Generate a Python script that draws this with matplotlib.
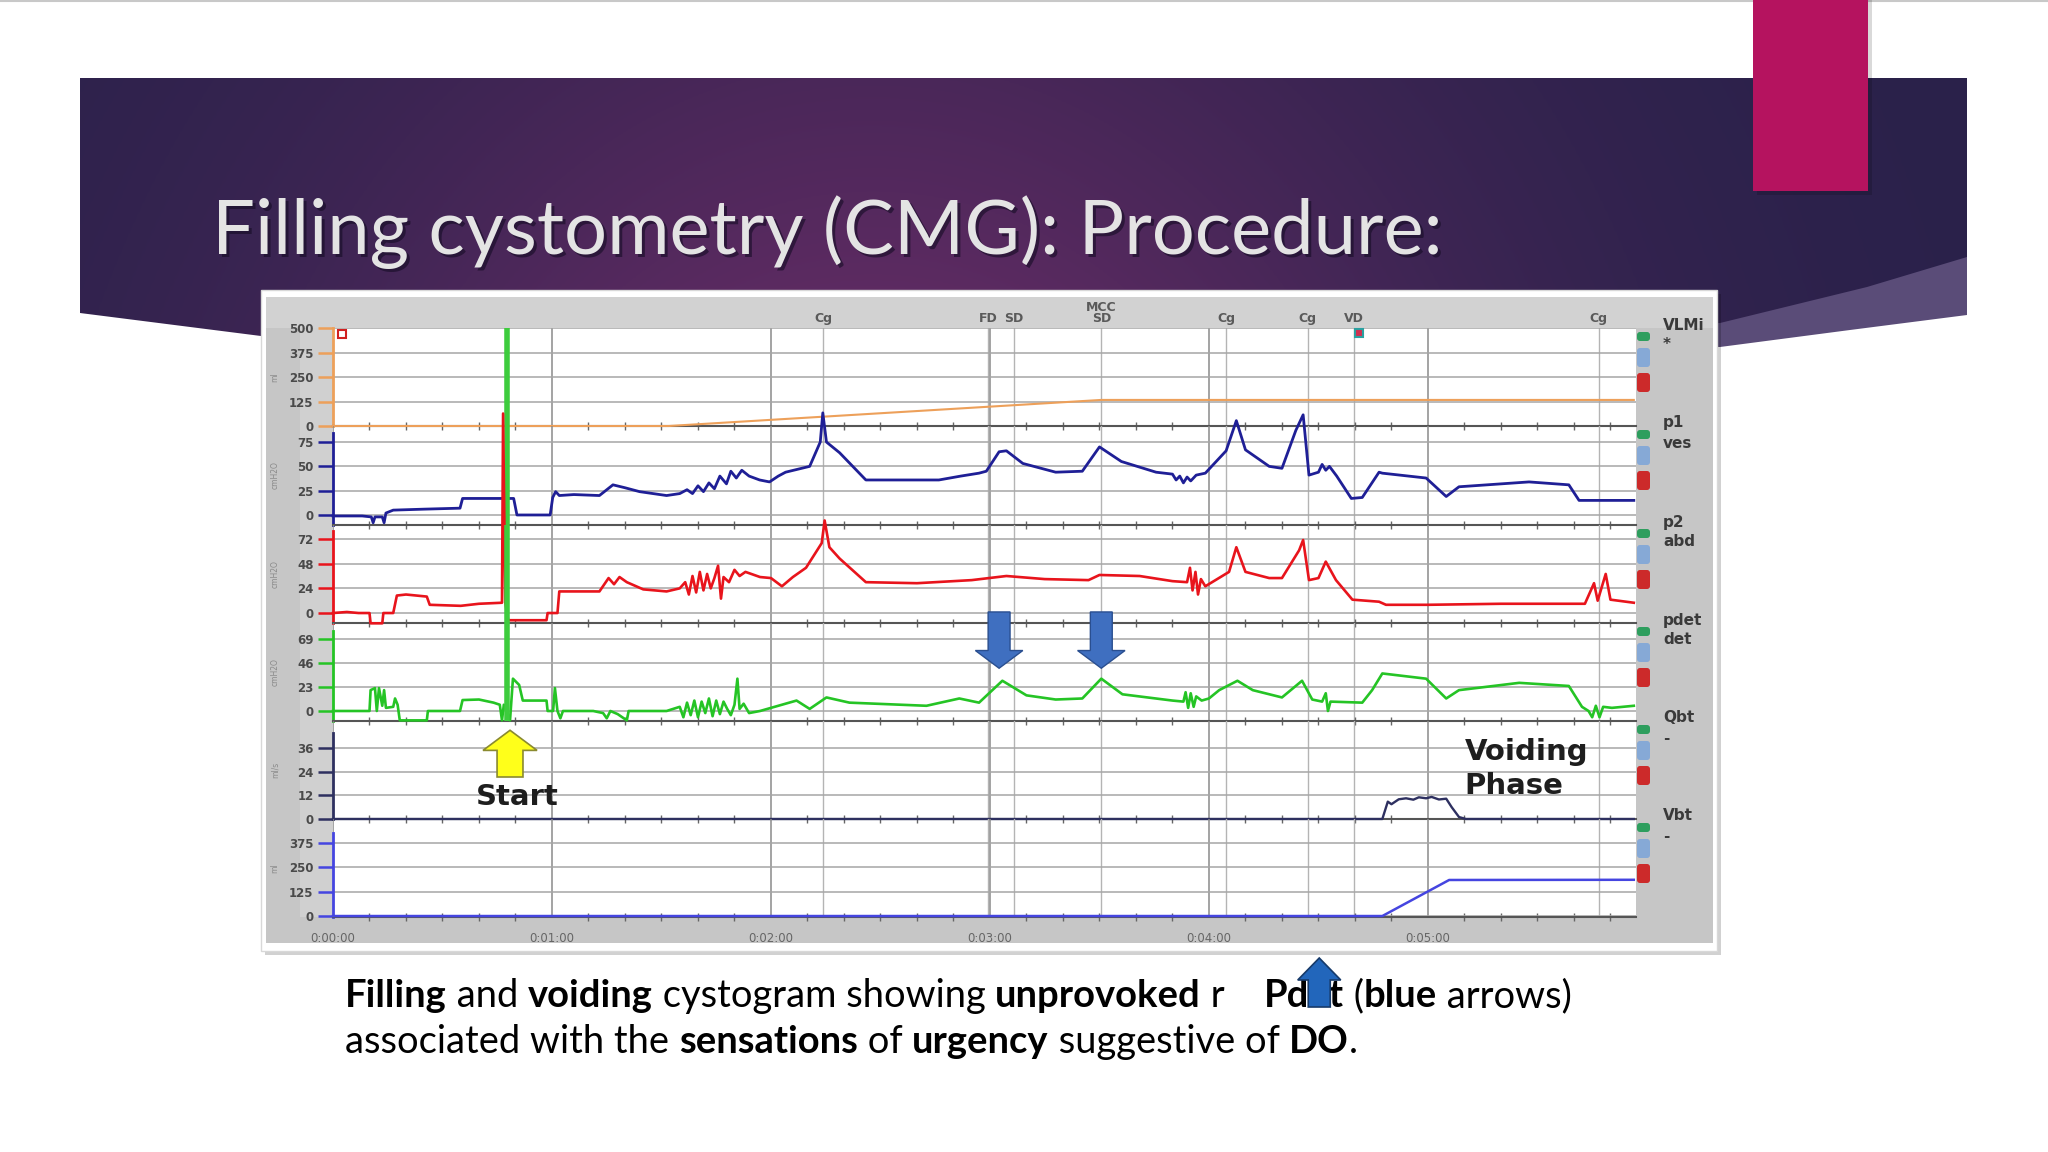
import numpy as np
import matplotlib
matplotlib.use("Agg")
import matplotlib.pyplot as plt
from matplotlib import font_manager
from matplotlib.patches import Polygon, Rectangle, FancyArrow, FancyBboxPatch

W, H = 2048, 1152

# ---- values (time in seconds) ----
minutes = [0, 60, 120, 180, 240, 300]
minute_labels = ["0:00:00", "0:01:00", "0:02:00", "0:03:00", "0:04:00", "0:05:00"]
event_labels = ["Cg", "FD", "SD", "MCC\nSD", "Cg", "Cg", "VD", "Cg"]
event_times = [134.3, 179.5, 186.5, 210.5, 244.7, 267.0, 279.8, 346.8]
start_t = 47.6
do_arrow_t = [182.5, 210.5]

channels = ["VLMi", "p1", "p2", "pdet", "Qbt", "Vbt"]
channel_sub = ["*", "ves", "abd", "det", "-", "-"]
channel_units = ["ml", "cmH2O", "cmH2O", "cmH2O", "ml/s", "ml"]
channel_ticks = [[0, 125, 250, 375, 500], [0, 25, 50, 75], [0, 24, 48, 72],
                 [0, 23, 46, 69], [0, 12, 24, 36], [0, 125, 250, 375]]

vlm_pts = [(0, 0), (92, 0), (210.5, 133), (356.4, 133)]

p1_pts = [(0, -1), (8, -1), (10.5, -2), (11, -8), (11.5, -2), (13.5, -2), (14, -8), (14.5, 2),
          (16.5, 5), (25, 6), (34.8, 7), (35.5, 17), (45.7, 17), (49.5, 17), (50.4, 0), (59.5, 0),
          (60.2, 18), (61, 24), (62, 20), (66, 21), (73, 20), (76.7, 31), (80, 28), (84, 24), (91.4, 20),
          (95, 22), (97, 26), (98.5, 22), (100, 30), (101.5, 24), (103, 33), (104.5, 27), (106, 40),
          (107.8, 32), (109, 45), (110.5, 38), (112, 46), (114, 40), (116.9, 36), (119.6, 34), (122, 40),
          (124, 44), (130.6, 50), (133.5, 75), (134.2, 105), (135.2, 75), (138.8, 64), (146, 36),
          (166, 36), (172, 40), (177, 43), (179, 45), (182.5, 65), (184.5, 66), (189, 53), (198, 44),
          (205.3, 45), (210, 70), (216, 55), (225.5, 44), (230, 42), (231, 36), (232, 40), (233, 33),
          (234, 39), (235, 35), (236.5, 41), (239, 43), (244.7, 66), (247.5, 97), (250, 67), (256.5, 50),
          (260, 48), (263.8, 87), (265.8, 103), (267.4, 41), (270, 44), (271, 52), (272, 46), (273, 50),
          (275, 40), (279, 17), (282, 18), (286.6, 44), (287.5, 43), (299.5, 38), (305, 19), (308.5, 29),
          (327.7, 34), (338.6, 31), (341.4, 15), (356.4, 15)]

p2_pts = [(0, 0), (3.8, 1), (7, 0), (10, 0), (10.3, -10), (13.5, -10), (13.8, 0), (16.5, 0), (17.5, 17),
          (20, 18), (25.7, 16), (26.5, 8), (35, 7), (40, 9), (46.3, 10), (46.6, 194), (47.2, 10),
          (48, -7), (58.5, -7), (58.8, 0), (61.5, 0), (62, 21), (73, 21), (75.5, 34), (77, 28),
          (78.5, 35), (80.5, 30), (85, 23), (91.4, 21), (95, 24), (96.5, 30), (97.5, 18), (98.5, 36),
          (99.5, 20), (100.5, 40), (101.5, 22), (102.5, 38), (103.5, 24), (104.5, 34), (105.5, 46),
          (106.3, 14), (107, 35), (108.5, 30), (110, 42), (111.4, 36), (113, 40), (117, 35), (120, 34),
          (123, 26), (126, 35), (129.6, 44), (133.9, 68), (134.7, 90), (136, 64), (138.8, 53), (146, 30),
          (160, 29), (175, 32), (184.5, 36), (195, 33), (207, 32), (210, 37), (221, 36), (230, 31),
          (234, 30), (234.8, 44), (235.5, 22), (236.3, 40), (237, 18), (237.8, 33), (239, 26),
          (245.5, 40), (247.5, 64), (250, 40), (256.5, 34), (260, 34), (264.7, 61), (265.8, 71),
          (267.4, 32), (270, 34), (272, 50), (274.8, 32), (279.3, 13), (286.6, 11), (288.5, 8),
          (300, 8), (320, 9), (343, 9), (345.5, 29), (346.5, 12), (348.7, 38), (350, 13), (356.4, 10)]

pdet_pts = [(0, 0), (10, 0), (10.3, 20), (11.5, 22), (12, 0), (12.6, 22), (13.5, 5), (14, 20),
            (14.5, 3), (16.5, 4), (17, 12), (17.7, 6), (18.3, -9), (25.7, -9), (26, 0), (34.8, 0),
            (35.5, 10.5), (40, 11), (44, 8), (45.7, 6), (46.3, -9), (46.8, 6), (48.5, -9), (49.3, 31),
            (51, 25), (52, 10), (58.5, 10), (58.8, 0), (60.3, 0), (60.8, 22), (61.5, 0), (62.3, -7),
            (63, 0), (71.3, 0), (74, -2), (75, -7), (76, 0), (78, -3), (80.5, -9), (81, 0), (91.4, 0),
            (95, 4), (96, -6), (97, 8), (98, -4), (99, 10), (100, -6), (101, 9), (102, -2), (103, 12),
            (104, -5), (105, 10), (106, -3), (107, 9), (108, 2), (109, -4), (110, 6), (110.8, 31),
            (111.4, 2), (112.5, 7), (114, -2), (117, 0), (122, 5), (127, 10), (130.6, 2), (135.2, 13),
            (141.5, 8), (162.6, 5), (171.6, 12), (177, 8), (183.4, 29), (190, 15), (198, 11),
            (205.3, 12), (210.5, 31), (216.3, 16), (230, 10), (233, 9), (233.6, 18), (234.3, 3),
            (235, 17), (235.8, 4), (236.5, 14), (238, 10), (240, 12), (242.8, 20), (247.8, 29),
            (252, 20), (260, 13), (265.5, 29), (268.3, 11), (271, 9), (272, 17), (272.6, 0),
            (273.3, 9), (282, 8), (284.7, 20), (287.5, 36), (299.5, 31), (305, 12), (308.5, 20),
            (325, 27), (338.6, 24), (342.2, 4), (344, 0), (345, -6), (346, 5), (347, -6), (348, 4),
            (350.4, 3), (356.4, 5)]

qbt_pts = [(0, 0), (287.5, 0), (289, 8.8), (290, 7.5), (292, 10), (294, 10.5), (296, 9.8),
           (297.5, 11), (299.5, 10.5), (301, 11.2), (303, 9.9), (305, 10.3), (306.5, 6),
           (308.5, 1), (310.4, 0), (356.4, 0)]

vbt_pts = [(0, 0), (287.5, 0), (305.8, 185), (356.4, 186)]

traces = [vlm_pts, p1_pts, p2_pts, pdet_pts, qbt_pts, vbt_pts]

# ---- styles / layout ----
trace_colors = ["#eda05a", "#1f1f96", "#e8141c", "#25c425", "#2e3060", "#4545e0"]
trace_lw = [1.5, 2.0, 1.9, 1.9, 1.7, 1.8]
panel_px = [(328, 426), (426, 525), (525, 623), (623, 721), (721, 819), (819, 917)]
ylims = [(0, 500), (-10.3, 91.5), (-9.7, 85.6), (-9.6, 84.4), (0, 49.7), (-5, 498)]
spine_top = [500, 84, 80, 77, 43.6, 426]
plot_x0, plot_x1 = 333, 1636

names = {f.name for f in font_manager.fontManager.ttflist}
title_font = next((f for f in ["Liberation Sans Narrow", "Lato", "Open Sans"] if f in names), "DejaVu Sans")
cap_font = next((f for f in ["Lato", "Open Sans"] if f in names), "DejaVu Sans")

fig = plt.figure(figsize=(W / 100, H / 100), dpi=100)
bg = fig.add_axes([0, 0, 1, 1])
bg.axis("off")

# slide decoration
bg.plot([0, W], [1, 1], color="#c8c8c8", lw=1.5)
bg.add_patch(Polygon([(1600, 300), (1967, 240), (1967, 315), (1850, 330), (1720, 347), (1600, 345)],
                     fc="#5a4c78", ec="none", zorder=1))
banner = Polygon([(80, 78), (1967, 78), (1967, 257), (1867, 287), (1720, 323), (1000, 345),
                  (261, 336), (80, 313)], fc="none", ec="none")
bg.add_patch(banner)
gx, gy = np.meshgrid(np.linspace(0, 1, 400), np.linspace(0, 1, 100))
wgt = np.exp(-((gx - 0.42) / 0.32) ** 2) * (0.6 + 0.4 * gy)
c_dark = np.array([0.16, 0.13, 0.29])
c_mid = np.array([0.38, 0.17, 0.39])
img = c_dark + (c_mid - c_dark) * wgt[..., None]
im = bg.imshow(img, extent=(80, 1967, 345, 78), origin="upper", aspect="auto", zorder=1.5)
im.set_clip_path(banner)

bg.add_patch(Rectangle((1757, 0), 115, 195, fc="black", alpha=0.15, zorder=2))
bg.add_patch(Rectangle((1753, 0), 115, 191, fc="#b5135f", zorder=2.1))

# chart frame
bg.add_patch(Rectangle((265, 294), 1456, 661, fc="black", alpha=0.18, zorder=2))
bg.add_patch(Rectangle((261, 290), 1456, 661, fc="white", ec="#d8d8d8", zorder=2.1))
bg.add_patch(Rectangle((266, 297), 1447, 646, fc="#c6c6c6", zorder=2.2))
bg.add_patch(Rectangle((266, 297), 1447, 31, fc="#d2d2d2", zorder=2.25))
bg.add_patch(Rectangle((300, 328), 33, 589, fc="#d0d0d0", zorder=2.25))
bg.add_patch(Rectangle((plot_x0, 328), plot_x1 - plot_x0, 589, fc="white", zorder=2.3))

bg.set_xlim(0, W)
bg.set_ylim(H, 0)
r = fig.canvas.get_renderer()


def text_w(s, size, weight, family):
    t = bg.text(0, 0, s + "|", fontsize=size, fontweight=weight, family=family)
    w1 = t.get_window_extent(r).width
    t.set_text("|")
    w2 = t.get_window_extent(r).width
    t.remove()
    return w1 - w2


# title
title = "Filling cystometry (CMG): Procedure:"
tsize = 60 * 1232 / text_w(title, 60, "normal", title_font)
bg.text(215, 257, title, fontsize=tsize, family=title_font, color="#150c25", alpha=0.6,
        va="baseline", zorder=3)
bg.text(212, 254, title, fontsize=tsize, family=title_font, color="#e4e4e4", va="baseline", zorder=3.1)

# panels
axes = []
for i, (top, bot) in enumerate(panel_px):
    ax = fig.add_axes([plot_x0 / W, 1 - bot / H, (plot_x1 - plot_x0) / W, (bot - top) / H])
    ax.set_zorder(3 + i)
    ax.set_facecolor("none")
    ax.set_xlim(0, 357)
    ax.set_ylim(*ylims[i])
    ax.set_yticks(channel_ticks[i])
    ax.set_xticks(minutes)
    ax.set_xticks(np.arange(0, 357, 10), minor=True)
    ax.grid(axis="y", color="#a6a6a6", lw=1.1)
    ax.grid(axis="x", which="major", color="#8a8a8a", lw=1.1)
    for et in event_times:
        ax.axvline(et, color="#b4b4b4", lw=1.0, zorder=0.5)
    for s in ["top", "right"]:
        ax.spines[s].set_visible(False)
    ax.spines["bottom"].set_color("#555555")
    ax.spines["bottom"].set_linewidth(1.5)
    ax.spines["left"].set_color(trace_colors[i])
    ax.spines["left"].set_linewidth(2)
    ax.spines["left"].set_bounds(ylims[i][0], spine_top[i])
    ax.tick_params(axis="y", direction="out", length=11, width=1.8, color=trace_colors[i],
                   labelsize=8.5, labelcolor="#4a4a4a", pad=3)
    for lab in ax.get_yticklabels():
        lab.set_fontweight("bold")
    ax.tick_params(axis="x", which="major", length=0, labelbottom=False)
    ax.tick_params(axis="x", which="minor", length=6, direction="inout", color="#666666", width=1)
    ax.text(-0.0445, 0.5, channel_units[i], rotation=90, transform=ax.transAxes, fontsize=5.5,
            color="#8a8a8a", ha="center", va="center")
    t, v = zip(*traces[i])
    ax.plot(t, v, color=trace_colors[i], lw=trace_lw[i], clip_on=False, zorder=3)
    if i < 4:
        ax.axvline(start_t, color="#3dcc3d", lw=4, zorder=4)
    axes.append(ax)

    # right hand labels and channel buttons
    bg.text(1663, top - 3, channels[i], ha="left", va="center", fontsize=11, fontweight="bold",
            color="#3a3a3a", zorder=3)
    bg.text(1663, top + 17, channel_sub[i], ha="left", va="center", fontsize=11, fontweight="bold",
            color="#3a3a3a", zorder=3)
    for dy, hh, col in [(4, 9, "#2e9e5e"), (20, 19, "#86a9d6"), (45, 19, "#cc2a2a")]:
        bg.add_patch(FancyBboxPatch((1637, top + dy), 13, hh, boxstyle="round,pad=0,rounding_size=3",
                                    fc=col, ec="none", zorder=3))

vlm_ax, p1_ax, p2_ax, pdet_ax, qbt_ax, vbt_ax = axes

# event labels above the plot
for et, lab in zip(event_times, event_labels):
    vlm_ax.text(et, 1.035, lab, transform=vlm_ax.get_xaxis_transform(), ha="center", va="bottom",
                fontsize=9, fontweight="bold", color="#5a5a5a", linespacing=0.8)
vlm_ax.plot([2.5], [469], "s", mfc="white", mec="#d02020", ms=6, mew=1.5, clip_on=False)
vlm_ax.plot([281.0], [474], "s", mfc="#d03050", mec="#2aa0a0", ms=6, mew=1.5, clip_on=False)

# time axis
vbt_ax.set_xticks(minutes, minute_labels)
vbt_ax.tick_params(axis="x", which="major", labelbottom=True, labelsize=8.5, labelcolor="#666666", pad=11)

# arrows and annotations
for at in do_arrow_t:
    pdet_ax.add_patch(FancyArrow(at, 95, 0, -54, width=6, head_width=13, head_length=17,
                                 length_includes_head=True, fc="#3f6fc0", ec="#2a4f90", lw=1,
                                 clip_on=False, zorder=6))
qbt_ax.add_patch(FancyArrow(48.5, 21.3, 0, 23.7, width=7.1, head_width=14.8, head_length=10.2,
                            length_includes_head=True, fc="#ffff1a", ec="#8a8a30", lw=1.2,
                            clip_on=False, zorder=6))
qbt_ax.text(50.4, 11.2, "Start", ha="center", va="center", fontsize=21, fontweight="bold",
            color="#1e1e1e", zorder=6)
qbt_ax.text(310, 25.4, "Voiding\nPhase", ha="left", va="center", fontsize=21, fontweight="bold",
            color="#1e1e1e", linespacing=1.3, zorder=6)

# caption
line1 = [("Filling", "bold"), (" and ", "normal"), ("voiding", "bold"), (" cystogram showing ", "normal"),
         ("unprovoked", "bold"), (" r    ", "normal"), ("Pdet", "bold"), (" (", "normal"),
         ("blue", "bold"), (" arrows)", "normal")]
line2 = [("associated with the ", "normal"), ("sensations", "bold"), (" of ", "normal"),
         ("urgency", "bold"), (" suggestive of ", "normal"), ("DO", "bold"), (".", "normal")]
w_line1 = sum(text_w(s, 30, wt, cap_font) for s, wt in line1)
csize = 30 * 1224 / w_line1
arrow_x = None
for segs, base in [(line1, 1007), (line2, 1053)]:
    x = 345
    for s, wt in segs:
        bg.text(x, base, s, fontsize=csize, fontweight=wt, family=cap_font, color="black",
                va="baseline", zorder=3)
        if s == "Pdet":
            arrow_x = x + text_w("Pd", csize, wt, cap_font) + text_w("e", csize, wt, cap_font) / 2
        x += text_w(s, csize, wt, cap_font)
bg.add_patch(FancyArrow(arrow_x, 1007, 0, -49, width=22, head_width=43, head_length=22,
                        length_includes_head=True, fc="#2266bb", ec="#163a6a", lw=1.2, zorder=5))

bg.set_xlim(0, W)
bg.set_ylim(H, 0)
fig.savefig("out.png", dpi=100)
